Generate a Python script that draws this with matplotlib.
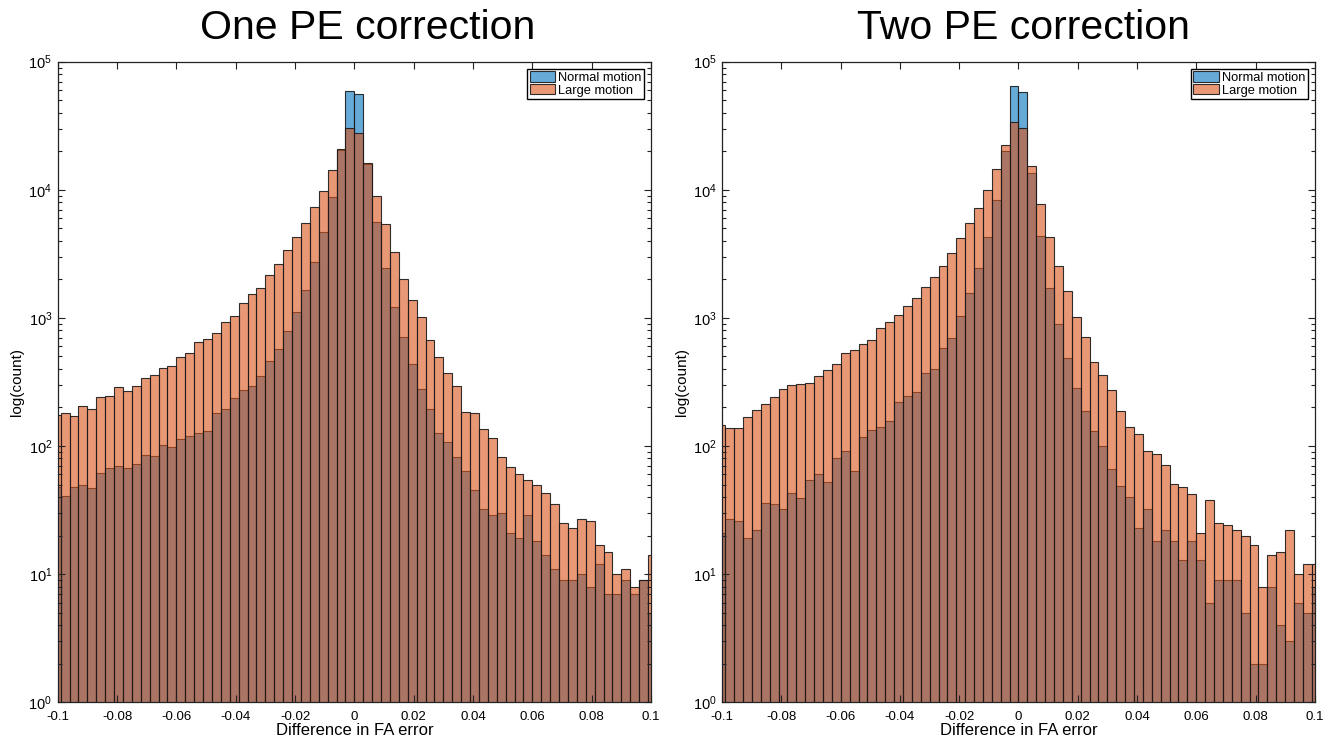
import numpy as np
import matplotlib
matplotlib.use("Agg")
import matplotlib.pyplot as plt
from matplotlib.ticker import LogLocator, NullLocator, FixedLocator, FixedFormatter

plt.rcParams["font.family"] = ["Liberation Sans", "DejaVu Sans"]
plt.rcParams["mathtext.default"] = "regular"

# histogram bins: width 0.003, left edges -0.102 ... 0.099
bin_width = 0.003
bin_left = np.round(np.arange(-34, 34) * bin_width, 3)

# counts
one_pe_normal = [48, 41, 48, 50, 47, 62, 68, 70, 68, 72, 85, 84, 102, 98, 113, 120, 127,
                 130, 180, 195, 236, 274, 296, 355, 464, 573, 792, 1108, 1654, 2720, 4665,
                 8852, 20300, 59520, 56060, 15800, 5581, 2442, 1211, 715, 435, 277, 194,
                 127, 107, 82, 64, 45, 32, 29, 30, 21, 19, 29, 18, 14, 11, 9, 9, 10, 8, 12,
                 7, 7, 9, 7, 9, 5]
one_pe_large = [175, 180, 173, 207, 195, 243, 248, 291, 269, 295, 338, 359, 405, 425, 499,
                530, 653, 690, 768, 936, 1031, 1302, 1549, 1725, 2154, 2624, 3376, 4265,
                5515, 7311, 9862, 14300, 20730, 30250, 27980, 16100, 8965, 5449, 3294,
                2028, 1382, 1012, 673, 493, 370, 295, 183, 181, 135, 115, 82, 69, 60, 54,
                50, 43, 35, 25, 23, 27, 26, 17, 15, 10, 11, 8, 9, 14]

two_pe_normal = [21, 27, 26, 19, 22, 36, 35, 32, 43, 39, 54, 61, 52, 81, 91, 64, 118, 133,
                 142, 157, 222, 248, 266, 370, 400, 580, 702, 1043, 1577, 2442, 4290, 8340,
                 20120, 65120, 58460, 13470, 4392, 1725, 903, 486, 282, 188, 131, 100, 66,
                 49, 40, 23, 32, 18, 22, 18, 13, 18, 13, 6, 9, 9, 9, 5, 2, 2, 8, 4, 3, 6,
                 5, 8]
two_pe_large = [146, 139, 139, 168, 192, 213, 243, 281, 298, 304, 313, 350, 395, 437, 530,
                563, 623, 669, 831, 925, 1062, 1248, 1424, 1746, 2089, 2563, 3198, 4212,
                5483, 7180, 10040, 14560, 22550, 34100, 30250, 15370, 7807, 4313, 2563,
                1625, 1018, 715, 451, 357, 273, 189, 141, 125, 92, 87, 71, 51, 48, 42, 21,
                38, 25, 24, 22, 20, 17, 8, 14, 15, 22, 10, 12, 12]

titles = ["One PE correction", "Two PE correction"]
x_ticks = [-0.1, -0.08, -0.06, -0.04, -0.02, 0, 0.02, 0.04, 0.06, 0.08, 0.1]
x_tick_labels = ["-0.1", "-0.08", "-0.06", "-0.04", "-0.02", "0",
                 "0.02", "0.04", "0.06", "0.08", "0.1"]

blue = (0.0, 0.447, 0.741, 0.6)
orange = (0.85, 0.325, 0.098, 0.6)
edge = (0.1, 0.1, 0.1, 0.9)

fig = plt.figure(figsize=(13.36, 7.36), dpi=100)
positions = [[0.0432, 0.0458, 0.4441, 0.8704], [0.5406, 0.0458, 0.4435, 0.8704]]
title_x = [0.522, 0.509]
panels = [(one_pe_normal, one_pe_large), (two_pe_normal, two_pe_large)]

for pos, tx, title, (normal, large) in zip(positions, title_x, titles, panels):
    ax = fig.add_axes(pos)
    ax.set_yscale("log")
    ax.bar(bin_left, normal, width=bin_width, align="edge", color=blue,
           edgecolor=edge, linewidth=0.8, label="Normal motion")
    ax.bar(bin_left, large, width=bin_width, align="edge", color=orange,
           edgecolor=edge, linewidth=0.8, label="Large motion")
    ax.set_xlim(-0.1, 0.1)
    ax.set_ylim(1, 1e5)

    ax.xaxis.set_major_locator(FixedLocator(x_ticks))
    ax.xaxis.set_major_formatter(FixedFormatter(x_tick_labels))
    ax.xaxis.set_minor_locator(NullLocator())
    ax.yaxis.set_major_locator(LogLocator(base=10, numticks=10))
    ax.yaxis.set_minor_locator(LogLocator(base=10, subs=np.arange(2, 10), numticks=20))

    ax.tick_params(which="both", direction="in", top=True, right=True,
                   width=0.8, color="#222222")
    ax.tick_params(which="major", length=5)
    ax.tick_params(which="minor", length=3)
    ax.tick_params(axis="x", labelsize=9.5, pad=6)
    ax.tick_params(axis="y", labelsize=10.5, pad=4)
    for s in ax.spines.values():
        s.set_linewidth(0.9)
        s.set_color("#222222")

    ax.set_title(title, fontsize=29.5, pad=16, x=tx)
    ax.set_xlabel("Difference in FA error", fontsize=12, labelpad=0)
    ax.set_ylabel("log(count)", fontsize=11, labelpad=3)

    leg = ax.legend(loc="upper right", fontsize=9.3, fancybox=False, framealpha=1,
                    edgecolor="black", borderaxespad=0.55, handlelength=2.0,
                    handleheight=0.85, handletextpad=0.2, labelspacing=0.0,
                    borderpad=0.2)
    leg.get_frame().set_linewidth(1.0)

fig.savefig("out.png", dpi=100)
